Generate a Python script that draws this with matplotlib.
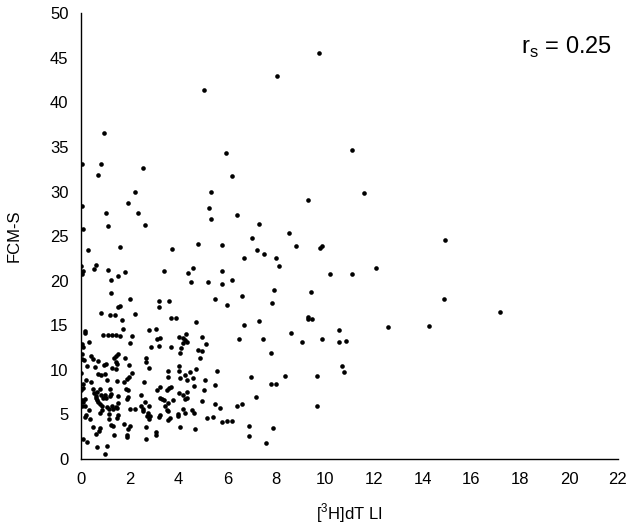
import matplotlib
matplotlib.use("Agg")
import matplotlib.pyplot as plt

plt.rcParams['font.family'] = ['Liberation Sans', 'DejaVu Sans']
plt.rcParams['mathtext.fontset'] = 'custom'
plt.rcParams['mathtext.rm'] = 'Liberation Sans'

# [3H]dT LI values
li = [9.74, 8.03, 5.05, 0.95, 11.12, 5.93, 0.03, 0.83, 2.53, 0.72,
      6.21, 2.23, 5.31, 11.61, 9.31, 1.93, 0.03, 5.23, 1.02, 2.33,
      6.41, 5.31, 7.31, 2.61, 1.12, 0.10, 8.51, 14.9, 7.01, 4.80,
      5.80, 8.81, 9.87, 9.79, 1.60, 3.73, 0.30, 7.20, 7.51, 6.69,
      8.01, 0.62, 0.02, 8.11, 4.60, 12.11, 0.52, 0.10, 1.12, 3.41,
      5.80, 1.80, 0.03, 4.40, 10.19, 11.09, 1.52, 1.23, 6.19, 4.50,
      5.20, 5.80, 7.90, 9.41, 1.23, 6.60, 2.00, 14.87, 5.50, 3.20,
      3.61, 7.81, 6.00, 1.60, 1.50, 3.20, 17.19, 0.82, 2.20, 1.20,
      1.40, 3.71, 3.91, 9.31, 9.48, 9.29, 1.70, 4.70, 7.29, 6.68,
      14.27, 12.59, 1.73, 0.18, 2.78, 3.08, 10.57, 0.18, 8.59, 0.92,
      1.13, 1.28, 1.42, 1.60, 2.11, 4.01, 4.30, 4.18, 4.98, 3.11,
      3.23, 6.48, 7.48, 9.89, 4.26, 4.36, 10.87, 9.06, 10.59, 0.32,
      0.03, 2.00, 5.11, 4.19, 3.70, 3.20, 2.88, 0.07, 4.10, 4.78,
      4.96, 7.78, 4.07, 0.03, 1.50, 0.42, 1.43, 1.35, 1.81, 4.88,
      2.68, 0.48, 0.03, 0.70, 0.13, 2.68, 1.43, 1.47, 1.99, 0.23,
      0.95, 1.02, 4.00, 0.58, 2.78, 1.28, 1.42, 4.70, 10.69, 10.79,
      5.58, 3.58, 4.45, 4.01, 2.10, 0.00, 0.82, 0.70, 0.98, 4.26,
      8.36, 9.68, 1.08, 1.87, 1.99, 3.58, 4.08, 4.58, 5.10, 6.98,
      4.33, 0.22, 1.47, 1.75, 0.40, 2.58, 7.79, 7.98, 0.08, 5.48,
      4.64, 3.71, 3.25, 3.61, 3.53, 0.78, 1.20, 0.07, 3.11, 1.83,
      1.92, 5.06, 0.02, 0.48, 0.68, 1.22, 0.55, 1.50, 0.82, 0.98,
      1.20, 2.46, 4.00, 4.18, 4.36, 0.60, 0.63, 0.92, 1.02, 1.92,
      7.18, 3.23, 3.31, 3.41, 3.76, 4.28, 4.33, 0.05, 0.18, 0.65,
      1.90, 0.72, 0.10, 0.77, 1.50, 2.63, 3.58, 4.96, 5.48, 6.58,
      6.38, 0.87, 1.07, 1.28, 2.46, 2.78, 3.46, 3.51, 3.58, 1.45,
      1.47, 0.03, 0.15, 5.69, 9.68, 0.35, 0.88, 1.15, 1.32, 2.03,
      2.20, 2.55, 2.56, 4.18, 4.55, 2.75, 0.77, 4.25, 3.96, 4.64,
      0.20, 1.16, 1.52, 2.71, 2.83, 3.25, 3.98, 0.15, 1.16, 0.38,
      1.47, 2.81, 3.18, 3.63, 3.58, 5.16, 0.50, 0.80, 1.25, 1.30,
      1.77, 2.00, 2.68, 4.08, 4.68, 5.78, 6.00, 6.18, 6.88, 7.86,
      5.43, 1.92, 0.75, 0.62, 1.37, 1.90, 1.88, 3.06, 3.06, 2.68,
      6.88, 0.07, 0.27, 7.58, 0.68, 1.07, 0.98]

# FCM-S values
fcm = [45.5, 43.0, 41.4, 36.6, 34.6, 34.3, 33.1, 33.1, 32.6, 31.9,
       31.7, 30.0, 29.9, 29.8, 29.1, 28.7, 28.4, 28.2, 27.6, 27.6,
       27.4, 26.9, 26.4, 26.3, 26.1, 25.8, 25.4, 24.6, 24.8, 24.1,
       24.0, 23.9, 23.85, 23.7, 23.8, 23.5, 23.4, 23.4, 23.0, 22.5,
       22.5, 21.8, 21.7, 21.6, 21.45, 21.45, 21.3, 21.1, 21.2, 21.1,
       21.1, 21.0, 20.8, 20.85, 20.7, 20.7, 20.5, 20.1, 20.06, 19.9,
       19.8, 19.6, 18.9, 18.7, 18.6, 18.3, 17.9, 17.9, 18.0, 17.7,
       17.7, 17.5, 17.3, 17.2, 17.0, 17.0, 16.45, 16.4, 16.3, 16.1,
       16.1, 15.85, 15.8, 15.9, 15.7, 15.7, 15.6, 15.4, 15.5, 15.0,
       14.95, 14.8, 14.6, 14.4, 14.5, 14.6, 14.5, 14.1, 14.1, 13.9,
       13.9, 13.9, 13.9, 13.8, 13.8, 13.7, 14.0, 13.6, 13.7, 13.5,
       13.6, 13.5, 13.45, 13.5, 13.3, 13.1, 13.2, 13.1, 13.1, 13.1,
       12.9, 13.0, 12.9, 13.0, 12.6, 12.7, 12.6, 12.6, 12.4, 12.2,
       12.1, 11.9, 11.9, 11.8, 11.8, 11.6, 11.6, 11.3, 11.3, 11.3,
       11.3, 11.2, 11.2, 11.0, 11.1, 10.9, 10.9, 10.7, 10.5, 10.4,
       10.5, 10.6, 10.4, 10.3, 10.2, 10.2, 10.1, 10.1, 10.4, 9.8,
       9.9, 9.9, 9.8, 9.9, 9.7, 9.6, 9.4, 9.5, 9.5, 9.4,
       9.35, 9.3, 8.9, 9.0, 9.2, 9.2, 9.1, 9.1, 8.9, 9.2,
       8.9, 8.9, 8.7, 8.6, 8.6, 8.6, 8.45, 8.45, 8.4, 8.3,
       8.2, 8.1, 8.1, 8.0, 7.7, 7.8, 7.9, 8.0, 7.7, 7.85,
       7.7, 7.7, 7.7, 7.8, 7.5, 7.3, 7.4, 7.1, 7.2, 7.2,
       7.1, 7.2, 7.4, 7.2, 7.55, 7.1, 6.8, 6.8, 6.8, 7.0,
       7.0, 6.8, 6.7, 6.6, 6.6, 6.7, 6.8, 6.6, 6.7, 6.6,
       6.7, 6.4, 6.4, 6.2, 6.3, 6.4, 6.3, 6.5, 6.2, 6.2,
       5.9, 6.0, 5.8, 5.9, 6.0, 6.0, 5.9, 5.5, 5.4, 5.8,
       5.7, 5.9, 5.9, 5.7, 6.0, 5.5, 5.5, 5.6, 5.6, 5.6,
       5.6, 5.6, 5.4, 5.6, 5.5, 5.2, 5.2, 5.2, 5.1, 5.15,
       4.9, 5.0, 4.9, 4.8, 4.8, 4.9, 4.8, 4.7, 4.5, 4.5,
       4.6, 4.5, 4.7, 4.6, 4.4, 4.65, 3.6, 3.5, 3.8, 3.7,
       3.9, 3.7, 3.6, 3.6, 3.4, 4.1, 4.3, 4.3, 3.7, 3.5,
       4.7, 3.4, 3.1, 2.8, 2.7, 2.7, 2.5, 3.0, 2.7, 2.25,
       2.55, 2.2, 1.95, 1.8, 1.35, 1.5, 0.55]

x_ticks = list(range(0, 23, 2))
y_ticks = list(range(0, 51, 5))

fig = plt.figure(figsize=(6.37, 5.27), dpi=100)
ax = fig.add_axes([0.127, 0.129, 0.843, 0.846])

ax.scatter(li, fcm, s=11, color='black', linewidths=0, zorder=3)

ax.set_xlim(0, 22)
ax.set_ylim(0, 50)
ax.set_xticks(x_ticks)
ax.set_yticks(y_ticks)
ax.tick_params(length=0, labelsize=12, pad=9)

ax.spines['top'].set_visible(False)
ax.spines['right'].set_visible(False)
for side in ['left', 'bottom']:
    ax.spines[side].set_linewidth(1.0)
    ax.spines[side].set_color('black')

ax.set_ylabel('FCM-S', fontsize=12, labelpad=20)
ax.set_xlabel('[$^{\\mathregular{3}}$H]dT LI', fontsize=12, labelpad=11)

ax.text(0.989, 0.91, r'r$_{\mathregular{s}}$ = 0.25', transform=ax.transAxes,
        ha='right', va='baseline', fontsize=17)

fig.savefig('out.png', dpi=100, facecolor='white')
